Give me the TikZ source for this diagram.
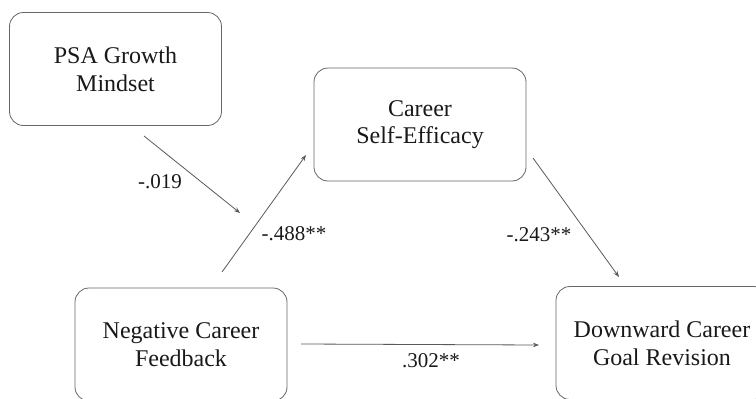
\documentclass[tikz,border=0pt]{standalone}
\usepackage{fontspec}
\setmainfont{Liberation Serif}
\usetikzlibrary{arrows.meta}
\begin{document}
\begin{tikzpicture}[x=1pt,y=-1pt,
  varbox/.style={draw=black!60,line width=0.8pt,rounded corners=14pt,minimum width=212pt,minimum height=113pt,align=center,font=\fontsize{24}{27.6}\selectfont,text=black!90},
  path/.style={draw=black!65,line width=0.8pt,-{Stealth[length=6pt,width=4.5pt]}},
  coef/.style={font=\fontsize{21}{24}\selectfont,text=black!90}]
\useasboundingbox (0,0) rectangle (756,399);
\clip (0,0) rectangle (756,399);
\node[varbox] (psa) at (115.5,69) {PSA Growth\\Mindset};
\node[varbox] (cse) at (420,124.5) {Career\\Self-Efficacy};
\node[varbox] (ncf) at (181,344.5) {Negative Career\\Feedback};
\node[varbox] (dcg) at (662,343) {Downward Career\\Goal Revision};
\coordinate (a1) at (144,136);
\coordinate (a2) at (240,213);
\coordinate (b1) at (222,272);
\coordinate (b2) at (306,155);
\coordinate (c1) at (533,158);
\coordinate (c2) at (619,277);
\coordinate (d1) at (301,344);
\coordinate (d2) at (539,345);
\draw[path] (a1) -- (a2);
\draw[path] (b1) -- (b2);
\draw[path] (c1) -- (c2);
\draw[path] (d1) -- (d2);
\node[coef] (l1) at (160,182) {-.019};
\node[coef] (l2) at (294,234) {-.488**};
\node[coef] (l3) at (539,235) {-.243**};
\node[coef] (l4) at (431,361) {.302**};
\end{tikzpicture}
\end{document}
